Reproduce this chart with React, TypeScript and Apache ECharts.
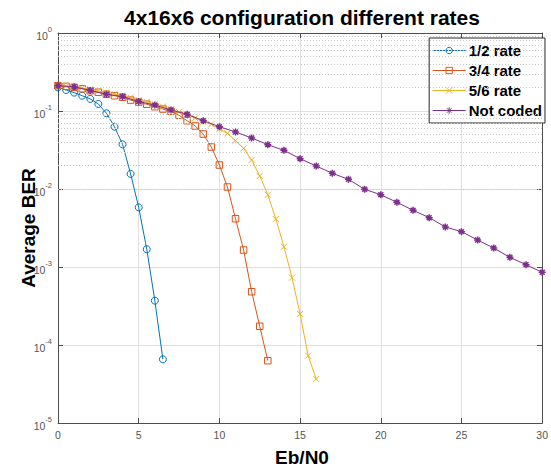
import React, { useEffect, useRef } from 'react';
import * as echarts from 'echarts';

const FONT = '"Liberation Sans", Arial, Helvetica, sans-serif';

const seriesNames = ['1/2 rate', '3/4 rate', '5/6 rate', 'Not coded'];
const colors = ['#0072BD', '#D95319', '#EDB120', '#7E2F8E'];

const xRate12 = [0, 0.5, 1, 1.5, 2, 2.5, 3, 3.5, 4, 4.5, 5, 5.5, 6, 6.5];
const berRate12 = [0.201, 0.186, 0.172, 0.157, 0.143, 0.123, 0.0935, 0.0629, 0.0374, 0.0156, 0.00582, 0.00169, 0.00037, 6.56e-5];

const xRate34 = [0, 0.5, 1, 1.5, 2, 2.5, 3, 3.5, 4, 4.5, 5, 5.5, 6, 6.5, 7, 7.5, 8, 8.5, 9, 9.5, 10, 10.5, 11, 11.5, 12, 12.5, 13];
const berRate34 = [0.211, 0.207, 0.201, 0.193, 0.182, 0.174, 0.164, 0.157, 0.15, 0.138, 0.13, 0.122, 0.1135, 0.106, 0.0991, 0.0881, 0.0751, 0.0643, 0.0507, 0.0345, 0.0203, 0.0106, 0.00416, 0.00165, 0.000482, 0.000174, 6.29e-5];

const xRate56 = [0, 0.5, 1, 1.5, 2, 2.5, 3, 3.5, 4, 4.5, 5, 5.5, 6, 6.5, 7, 7.5, 8, 8.5, 9, 9.5, 10, 10.5, 11, 11.5, 12, 12.5, 13, 13.5, 14, 14.5, 15, 15.5, 16];
const berRate56 = [0.21, 0.207, 0.203, 0.197, 0.19, 0.18, 0.172, 0.165, 0.156, 0.148, 0.138, 0.131, 0.122, 0.114, 0.105, 0.097, 0.089, 0.081, 0.073, 0.0676, 0.0588, 0.0518, 0.0416, 0.0332, 0.0235, 0.0147, 0.00845, 0.00412, 0.00182, 0.00073, 0.00025, 7.29e-5, 3.67e-5];

const xUncoded = [0, 1, 2, 3, 4, 5, 6, 7, 8, 9, 10, 11, 12, 13, 14, 15, 16, 17, 18, 19, 20, 21, 22, 23, 24, 25, 26, 27, 28, 29, 30];
const berUncoded = [0.211, 0.205, 0.183, 0.164, 0.153, 0.132, 0.119, 0.103, 0.0907, 0.0751, 0.0629, 0.0538, 0.0451, 0.037, 0.0313, 0.0245, 0.0197, 0.0159, 0.0133, 0.00991, 0.00845, 0.00675, 0.00533, 0.00429, 0.00326, 0.00284, 0.00222, 0.00175, 0.00133, 0.00107, 0.000855];

const decades = [1e-5, 1e-4, 1e-3, 1e-2, 1e-1];
const minorMultipliers = [2, 3, 4, 5, 6, 7, 8, 9];

const xTitle = 'Eb/N0';
const yTitle = 'Average BER';
const chartTitle = '4x16x6 configuration different rates';

const symX = 'path://M0,0L10,10M10,0L0,10';
const symStar = 'path://M5,0L5,10M0,5L10,5M1.5,1.5L8.5,8.5M8.5,1.5L1.5,8.5';

function pairs(xs: number[], ys: number[]) {
  return xs.map((x, i) => [x, ys[i]]);
}

export default function App() {
  const ref = useRef<HTMLDivElement>(null);
  useEffect(() => {
    if (!ref.current) return;
    const chart = echarts.init(ref.current, undefined, { renderer: 'svg' });
    const minorLines: any[] = [];
    decades.forEach((d) => minorMultipliers.forEach((m) => minorLines.push({ yAxis: d * m })));

    const axisLineStyle = { color: '#4d4d4d', width: 1 };
    const yLabelFmt = (v: number) => {
      const e = Math.round(Math.log10(v));
      return `{b|10}{s|${e}}`;
    };
    const clear = 'rgba(255,255,255,0)';

    const option: any = {
      animation: false,
      backgroundColor: '#ffffff',
      grid: { left: 58, right: 4, top: 33, bottom: 46, containLabel: false },
      graphic: [
        {
          type: 'text', x: 302, y: 17,
          style: { text: chartTitle, fontFamily: FONT, fontWeight: 'bold', fontSize: 21, fill: '#000', textAlign: 'center', textVerticalAlign: 'middle' },
        },
        {
          type: 'text', x: 302, y: 457,
          style: { text: xTitle, fontFamily: FONT, fontWeight: 'bold', fontSize: 19, fill: '#000', textAlign: 'center', textVerticalAlign: 'middle' },
        },
        {
          type: 'text', x: 28, y: 228, rotation: Math.PI / 2,
          style: { text: yTitle, fontFamily: FONT, fontWeight: 'bold', fontSize: 19, fill: '#000', textAlign: 'center', textVerticalAlign: 'middle' },
        },
      ],
      legend: {
        data: seriesNames.map((n, i) => ({
          name: n,
          lineStyle: { color: colors[i], width: 1, type: 'solid', opacity: 1 },
          itemStyle: { color: clear, borderColor: colors[i], borderWidth: 1, borderType: 'solid' },
        })),
        orient: 'vertical',
        right: 6,
        top: 38,
        backgroundColor: '#ffffff',
        borderColor: '#262626',
        borderWidth: 1,
        borderRadius: 0,
        padding: [4, 3, 4, 3],
        itemWidth: 33,
        itemHeight: 8,
        itemGap: 3,
        textStyle: { fontFamily: FONT, fontWeight: 'bold', fontSize: 15, color: '#000', lineHeight: 17, padding: [0, 0, 0, -2] },
      },
      xAxis: [
        {
          type: 'value', min: 0, max: 30, interval: 5, position: 'bottom',
          axisLine: { show: true, onZero: false, lineStyle: axisLineStyle },
          axisTick: { show: true, inside: true, length: 5, lineStyle: axisLineStyle },
          axisLabel: { show: true, margin: 6, fontFamily: FONT, fontSize: 10.5, color: '#555' },
          splitLine: { show: true, lineStyle: { color: '#e0e0e0', width: 1 } },
        },
        {
          type: 'value', min: 0, max: 30, interval: 5, position: 'top',
          axisLine: { show: true, onZero: false, lineStyle: axisLineStyle },
          axisTick: { show: true, inside: true, length: 5, lineStyle: axisLineStyle },
          axisLabel: { show: false },
          splitLine: { show: false },
        },
      ],
      yAxis: [
        {
          type: 'log', logBase: 10, min: 1e-5, max: 1, position: 'left',
          axisLine: { show: true, onZero: false, lineStyle: axisLineStyle },
          axisTick: { show: true, inside: true, length: 5, lineStyle: axisLineStyle },
          axisLabel: {
            show: true, margin: 6, formatter: yLabelFmt,
            rich: {
              b: { fontFamily: FONT, fontSize: 10.5, color: '#555', lineHeight: 16, verticalAlign: 'bottom' },
              s: { fontFamily: FONT, fontSize: 7.5, color: '#555', lineHeight: 16, verticalAlign: 'top' },
            },
          },
          splitLine: { show: true, lineStyle: { color: '#e0e0e0', width: 1 } },
        },
        {
          type: 'log', logBase: 10, min: 1e-5, max: 1, position: 'right',
          axisLine: { show: true, onZero: false, lineStyle: axisLineStyle },
          axisTick: { show: true, inside: true, length: 5, lineStyle: axisLineStyle },
          axisLabel: { show: false },
          splitLine: { show: false },
        },
      ],
      series: [
        {
          name: '_minorGrid', type: 'line', xAxisIndex: 0, yAxisIndex: 0,
          data: [],
          symbol: 'none',
          markLine: {
            silent: true, symbol: ['none', 'none'], label: { show: false },
            lineStyle: { color: '#c8c8c8', width: 1, type: [1, 2] },
            data: minorLines,
          },
          z: 1,
        },
        {
          name: seriesNames[0], type: 'line', xAxisIndex: 0, yAxisIndex: 0,
          data: pairs(xRate12, berRate12),
          symbol: 'circle', symbolSize: 7,
          lineStyle: { color: colors[0], width: 1, type: 'solid' },
          itemStyle: { color: clear, borderColor: colors[0], borderWidth: 1 },
          z: 3,
        },
        {
          name: seriesNames[1], type: 'line', xAxisIndex: 0, yAxisIndex: 0,
          data: pairs(xRate34, berRate34),
          symbol: 'rect', symbolSize: 6.5,
          lineStyle: { color: colors[1], width: 1, type: 'solid' },
          itemStyle: { color: clear, borderColor: colors[1], borderWidth: 1 },
          z: 4,
        },
        {
          name: seriesNames[2], type: 'line', xAxisIndex: 0, yAxisIndex: 0,
          data: pairs(xRate56, berRate56),
          symbol: symX, symbolSize: 6,
          lineStyle: { color: colors[2], width: 1, type: 'solid' },
          itemStyle: { color: clear, borderColor: colors[2], borderWidth: 1 },
          z: 5,
        },
        {
          name: seriesNames[3], type: 'line', xAxisIndex: 0, yAxisIndex: 0,
          data: pairs(xUncoded, berUncoded),
          symbol: symStar, symbolSize: 7,
          lineStyle: { color: colors[3], width: 1, type: 'solid' },
          itemStyle: { color: clear, borderColor: colors[3], borderWidth: 1.5 },
          z: 6,
        },
      ],
    };
    chart.setOption(option);
    return () => chart.dispose();
  }, []);
  return (
    <div
      ref={ref}
      style={{ position: 'fixed', left: 0, top: 0, width: 551, height: 469, background: '#fff' }}
    />
  );
}
